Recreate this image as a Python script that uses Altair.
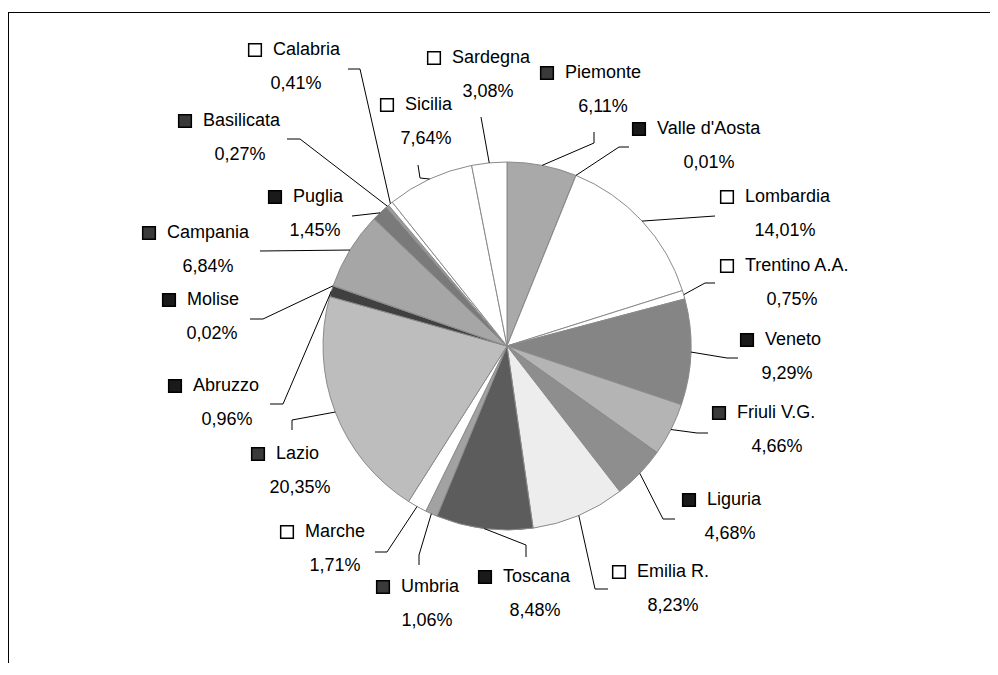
import altair as alt
import pandas as pd

# ---- data ----
regions = ["Piemonte", "Valle d'Aosta", "Lombardia", "Trentino A.A.", "Veneto",
           "Friuli V.G.", "Liguria", "Emilia R.", "Toscana", "Umbria", "Marche",
           "Lazio", "Abruzzo", "Molise", "Campania", "Puglia", "Basilicata",
           "Calabria", "Sicilia", "Sardegna"]
values = [6.11, 0.01, 14.01, 0.75, 9.29, 4.66, 4.68, 8.23, 8.48, 1.06, 1.71,
          20.35, 0.96, 0.02, 6.84, 1.45, 0.27, 0.41, 7.64, 3.08]

# ---- styles ----
slice_colors = ["#a9a9a9", "#3c3c3c", "#ffffff", "#ffffff", "#858585", "#b4b4b4",
                "#8e8e8e", "#ededed", "#5c5c5c", "#a2a2a2", "#ffffff", "#bdbdbd",
                "#404040", "#303030", "#a6a6a6", "#7a7a7a", "#9a9a9a", "#ffffff",
                "#ffffff", "#ffffff"]
marker_colors = ["#3a3a3a", "#1a1a1a", "#ffffff", "#ffffff", "#1a1a1a", "#3a3a3a",
                 "#1a1a1a", "#ffffff", "#1a1a1a", "#3a3a3a", "#ffffff", "#3a3a3a",
                 "#1a1a1a", "#1a1a1a", "#3a3a3a", "#1a1a1a", "#3a3a3a", "#ffffff",
                 "#ffffff", "#ffffff"]

# ---- label layout (page pixel coordinates) ----
name_x = [565, 657, 745, 745, 765, 737, 707, 637, 503, 401, 305, 276, 193, 187,
          167, 293, 203, 273, 405, 452]
name_y = [73, 129, 197, 266, 340, 413, 500, 572, 577, 587, 532, 454, 386, 300,
          233, 197, 121, 50, 105, 58]
pct_x = [603, 709, 785, 792, 787, 777, 730, 673, 535, 427, 335, 300, 227, 212,
         208, 315, 240, 296, 426, 488]
end_x = [594, 629, 715, 715, 738, 708, 675, 608, 526, 419, 375, 292, 270, 250,
         260, 352, 287, 348, 418, 481]
end_y = [132, 147, 216, 283, 358, 433, 519, 589, 557, 565, 552, 430, 404, 319,
         251, 216, 139, 69, 165, 117]
elb_x = [594, 619, 715, 705, 727, 697, 663, 595, 526, 419, 387, 292, 283, 263,
         260, 352, 300, 360, 420, 481]
elb_y = [143, 147, 216, 283, 358, 433, 519, 589, 545, 555, 552, 420, 404, 319,
         251, 216, 139, 69, 178, 117]

CX, CY, R = 507, 346, 184
W, H = 982, 655
FONT = "Liberation Sans"

df = pd.DataFrame({
    "region": regions, "value": values, "idx": list(range(len(regions))),
    "color": slice_colors, "mcolor": marker_colors,
    "nx": name_x, "ny": name_y, "px": pct_x,
    "tx": end_x, "ty": end_y, "bx": elb_x, "by": elb_y,
})

xs = alt.Scale(domain=[8, 8 + W], nice=False, zero=False)
ys = alt.Scale(domain=[8, 8 + H], nice=False, zero=False, reverse=True)

base = alt.Chart(df).transform_joinaggregate(
    total="sum(value)"
).transform_window(
    cum="sum(value)", sort=[alt.SortField("idx")], frame=[None, 0]
).transform_calculate(
    mid=f"(datum.cum - datum.value/2) / datum.total * 2 * PI",
).transform_calculate(
    ex=f"{CX} + {R} * sin(datum.mid)",
    ey=f"{CY} - {R} * cos(datum.mid)",
    pct="replace(format(datum.value, '.2f'), '.', ',') + '%'",
)

pie = alt.Chart(df).mark_arc(outerRadius=R, stroke="#8a8a8a", strokeWidth=1).encode(
    theta=alt.Theta("value:Q", stack=True),
    order=alt.Order("idx:Q"),
    fill=alt.Fill("color:N", scale=None),
    x=alt.X(datum=CX, type="quantitative", scale=xs, axis=None),
    y=alt.Y(datum=CY, type="quantitative", scale=ys, axis=None),
)

lead1 = base.mark_rule(color="black", strokeWidth=1).encode(
    x=alt.X("ex:Q", scale=xs, axis=None), y=alt.Y("ey:Q", scale=ys, axis=None),
    x2="bx:Q", y2="by:Q",
)
lead2 = base.mark_rule(color="black", strokeWidth=1).encode(
    x=alt.X("bx:Q", scale=xs, axis=None), y=alt.Y("by:Q", scale=ys, axis=None),
    x2="tx:Q", y2="ty:Q",
)

markers = base.mark_square(size=160, stroke="black", strokeWidth=1.5, xOffset=-18,
                           opacity=1).encode(
    x=alt.X("nx:Q", scale=xs, axis=None), y=alt.Y("ny:Q", scale=ys, axis=None),
    fill=alt.Fill("mcolor:N", scale=None),
)

names = base.mark_text(align="left", baseline="middle", font=FONT, fontSize=18,
                       color="black").encode(
    x=alt.X("nx:Q", scale=xs, axis=None), y=alt.Y("ny:Q", scale=ys, axis=None),
    text="region:N",
)
pcts = base.mark_text(align="center", baseline="middle", font=FONT, fontSize=18,
                      color="black", yOffset=34).encode(
    x=alt.X("px:Q", scale=xs, axis=None), y=alt.Y("ny:Q", scale=ys, axis=None),
    text="pct:N",
)

top_line = alt.Chart(df).mark_rule(color="black", strokeWidth=1).encode(
    x=alt.value(0), x2=alt.value(W), y=alt.value(4.5)
)
left_line = alt.Chart(df).mark_rule(color="black", strokeWidth=1).encode(
    x=alt.value(0.5), y=alt.value(4), y2=alt.value(H)
)

chart = alt.layer(pie, lead1, lead2, markers, names, pcts, top_line, left_line).properties(
    width=W, height=H, autosize=alt.AutoSizeParams(type="none"), padding=0,
    background="white",
).configure_view(stroke=None)

chart.save("out.html", embed_options={"renderer": "svg", "actions": False})
